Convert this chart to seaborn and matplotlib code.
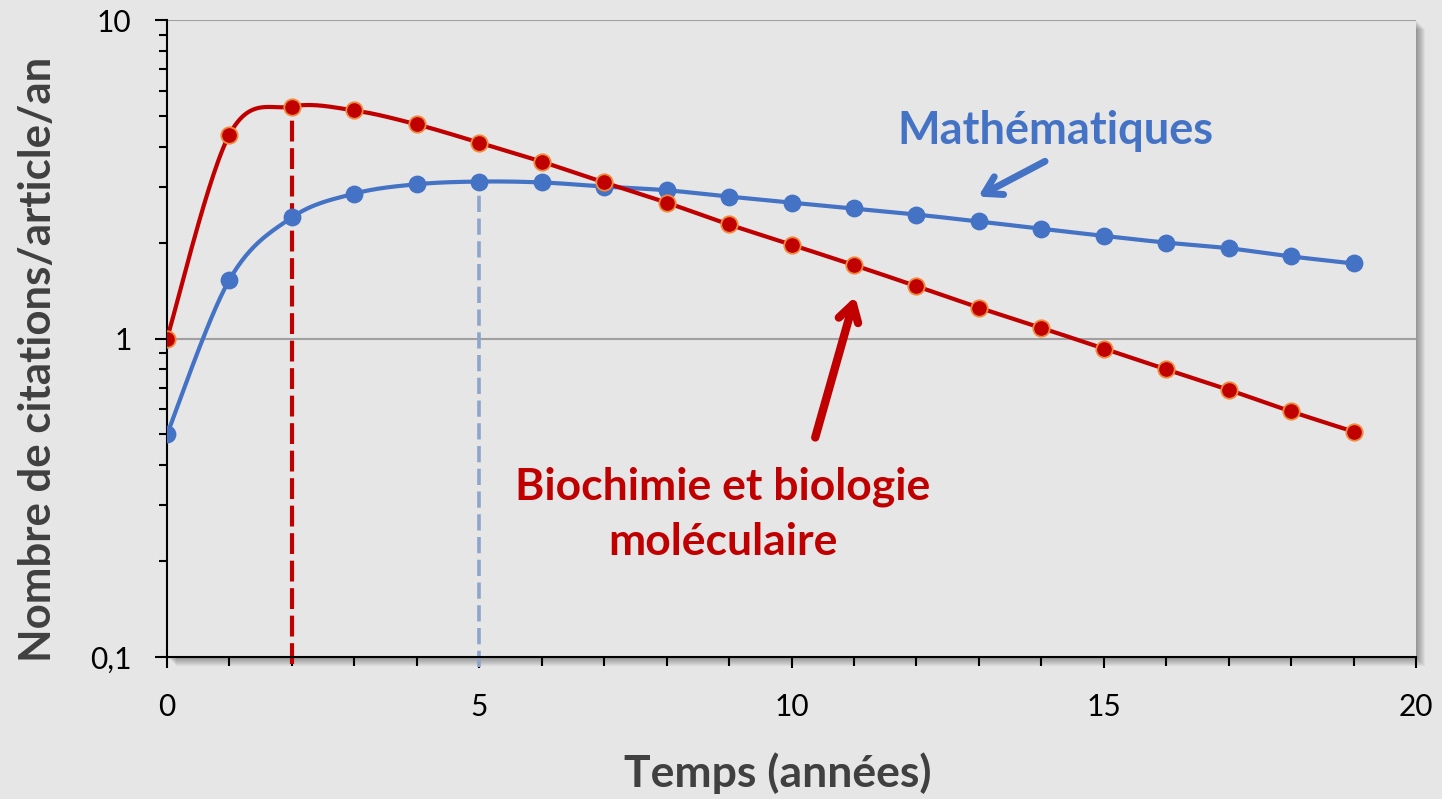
import numpy as np
import pandas as pd
import matplotlib
matplotlib.use("Agg")
import matplotlib.pyplot as plt
from matplotlib.patches import Rectangle
from matplotlib.ticker import LogLocator, FixedLocator, MultipleLocator, FuncFormatter, NullFormatter
import seaborn as sns

# ---- data ----
years = list(range(20))
biochimie = [1.00, 4.37, 5.35, 5.20, 4.70, 4.12, 3.59, 3.09, 2.67, 2.28,
             1.97, 1.70, 1.46, 1.25, 1.08, 0.93, 0.80, 0.69, 0.59, 0.51]
mathematiques = [0.50, 1.53, 2.40, 2.85, 3.05, 3.11, 3.09, 3.00, 2.92, 2.79,
                 2.67, 2.56, 2.45, 2.33, 2.21, 2.10, 2.00, 1.92, 1.81, 1.72]
x_ticks = [0, 5, 10, 15, 20]
y_ticks = [0.1, 1, 10]
y_tick_labels = ["0,1", "1", "10"]
peak_bio_year = 2
peak_math_year = 5

RED = "#C00000"
RED_EDGE = "#F08A3C"
BLUE = "#4472C4"
BLUE_DASH = "#8EA5CB"
BG = "#E6E6E6"
LABEL = "#404040"

sns.set_theme(style="white")
plt.rcParams["font.family"] = ["Lato", "DejaVu Sans"]


def catmull_rom(xs, ys, n=30):
    """Smooth curve (Excel-like) through the points, in (x, log10 y) space."""
    x = np.asarray(xs, float)
    y = np.log10(np.asarray(ys, float))
    P = np.column_stack([x, y])
    P = np.vstack([P[0], P, P[-1]])
    out = []
    t = np.linspace(0, 1, n, endpoint=False)
    for i in range(1, len(P) - 2):
        p0, p1, p2, p3 = P[i - 1], P[i], P[i + 1], P[i + 2]
        c1 = p1 + (p2 - p0) / 6.0
        c2 = p2 - (p3 - p1) / 6.0
        pts = ((1 - t) ** 3)[:, None] * p1 + (3 * (1 - t) ** 2 * t)[:, None] * c1 \
            + (3 * (1 - t) * t ** 2)[:, None] * c2 + (t ** 3)[:, None] * p2
        out.append(pts)
    out.append(P[-2][None, :])
    arr = np.vstack(out)
    return pd.DataFrame({"x": arr[:, 0], "y": 10 ** arr[:, 1]})


fig = plt.figure(figsize=(14.42, 7.99), dpi=100, facecolor=BG)
W, H = 1442, 799
left, right, top, bottom = 167, 1416, 20, 657
ax = fig.add_axes([left / W, 1 - bottom / H, (right - left) / W, (bottom - top) / H])
ax.set_facecolor(BG)

# drop shadow behind plot area
for k in range(1, 10):
    fig.patches.append(Rectangle(((left + k) / W, 1 - (bottom + k) / H),
                                 (right - left) / W, (bottom - top) / H,
                                 transform=fig.transFigure, facecolor="black",
                                 edgecolor="none", alpha=0.045, zorder=-5))

df_bio = catmull_rom(years, biochimie)
df_math = catmull_rom(years, mathematiques)

ax.set_yscale("log")
ax.set_xlim(0, 20)
ax.set_ylim(0.1, 10)

# reference dashed lines at peaks
ax.plot([peak_math_year, peak_math_year], [0.093, mathematiques[peak_math_year]],
        color=BLUE_DASH, lw=2.6, ls=(0, (4.5, 1.8)), zorder=2, clip_on=False)
ax.plot([peak_bio_year, peak_bio_year], [0.095, biochimie[peak_bio_year]],
        color=RED, lw=3, ls=(0, (5, 1.6)), zorder=2, clip_on=False)

sns.lineplot(data=df_math, x="x", y="y", ax=ax, color=BLUE, lw=3, sort=False,
             estimator=None, zorder=3)
sns.lineplot(data=df_bio, x="x", y="y", ax=ax, color=RED, lw=3, sort=False,
             estimator=None, zorder=4)
sns.scatterplot(x=years, y=mathematiques, ax=ax, color=BLUE, s=140,
                edgecolor=BLUE, linewidth=1, zorder=5)
sns.scatterplot(x=years, y=biochimie, ax=ax, color=RED, s=140,
                edgecolor=RED_EDGE, linewidth=1.3, zorder=6)

# axes styling
ax.grid(False)
for yv in [1, 10]:
    ax.axhline(yv, color="#A0A0A0", lw=1.5, zorder=1)
for s in ["top", "right"]:
    ax.spines[s].set_visible(False)
for s in ["left", "bottom"]:
    ax.spines[s].set_color("black")
    ax.spines[s].set_linewidth(1.5)
    ax.spines[s].set_zorder(2.5)

ax.yaxis.set_major_locator(FixedLocator(y_ticks))
ax.yaxis.set_major_formatter(FuncFormatter(lambda v, p: y_tick_labels[y_ticks.index(round(v, 3))] if round(v, 3) in y_ticks else ""))
ax.yaxis.set_minor_locator(LogLocator(base=10, subs=np.arange(2, 10)))
ax.yaxis.set_minor_formatter(NullFormatter())
ax.set_xticks(x_ticks)
ax.set_xticklabels([str(v) for v in x_ticks])
ax.xaxis.set_minor_locator(MultipleLocator(1))

ax.tick_params(axis="y", which="major", direction="out", length=8.5, width=1.5,
               color="black", labelsize=21.5, labelcolor="black", pad=17, left=True)
ax.tick_params(axis="y", which="minor", direction="out", length=5.5, width=1.5,
               color="black", left=True)
ax.tick_params(axis="x", which="major", direction="out", length=8, width=1.5,
               color="black", labelsize=21.5, labelcolor="black", pad=18, bottom=True)
ax.tick_params(axis="x", which="minor", direction="out", length=6.5, width=1.5,
               color="black", bottom=True)

ax.set_xlabel("")
ax.set_ylabel("")
fig.text(778 / W, 1 - 773 / H, "Temps (années)", fontsize=32, fontweight="bold",
         color=LABEL, ha="center", va="center")
fig.text(38 / W, 1 - 359 / H, "Nombre de citations/article/an", fontsize=31.5,
         fontweight="bold", color=LABEL, ha="center", va="center", rotation=90)

# annotations
ax.text(14.22, 4.47, "Mathématiques", color=BLUE, fontsize=32.5, fontweight="bold",
        ha="center", va="center")
ax.annotate("", xy=(12.99, 2.79), xytext=(14.06, 3.60),
            arrowprops=dict(arrowstyle="->,head_length=1.0,head_width=0.6",
                            color=BLUE, lw=5, capstyle="round", joinstyle="round",
                            shrinkA=0, shrinkB=0))
ax.text(8.90, 0.280, "Biochimie et biologie\nmoléculaire", color=RED, fontsize=32,
        fontweight="bold", ha="center", va="center", linespacing=1.45)
ax.annotate("", xy=(11.02, 1.355), xytext=(10.38, 0.489),
            arrowprops=dict(arrowstyle="->,head_length=1.0,head_width=0.6",
                            color=RED, lw=6, capstyle="round", joinstyle="round",
                            shrinkA=0, shrinkB=0))

fig.savefig("out.png", dpi=100, facecolor=BG)
